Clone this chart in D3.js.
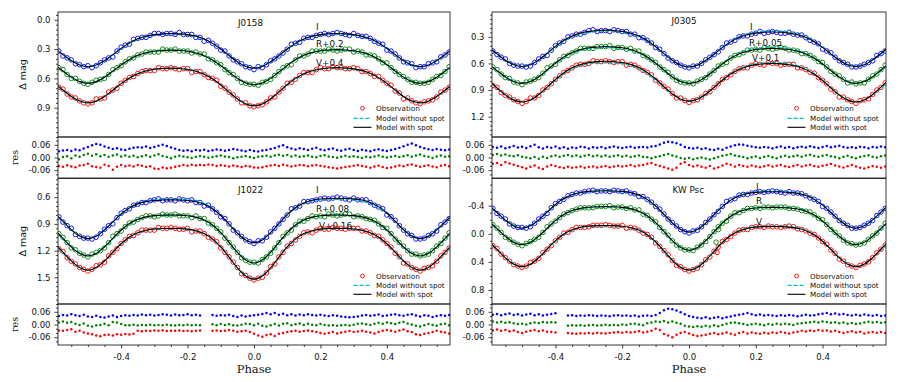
<!DOCTYPE html>
<html>
<head>
<meta charset="utf-8">
<script src="https://cdn.jsdelivr.net/npm/d3@7"></script>
<style>
body { margin: 0; background: #fff; }
svg text { font-family: "DejaVu Sans", sans-serif; fill: #111; }
</style>
</head>
<body>
<script>
const width = 899;
const height = 382;

// phase grids
const phaseModel = [-.6,-.575,-.55,-.525,-.5,-.475,-.45,-.425,-.4,-.375,-.35,-.325,-.3,-.275,-.25,-.225,-.2,-.175,-.15,-.125,-.1,-.075,-.05,-.025,0,
  .025,.05,.075,.1,.125,.15,.175,.2,.225,.25,.275,.3,.325,.35,.375,.4,.425,.45,.475,.5,.525,.55,.575,.6];
const phaseNoSpot = [-.6,-.55,-.5,-.45,-.4,-.35,-.3,-.25,-.2,-.15,-.1,-.05,0,.05,.1,.15,.2,.25,.3,.35,.4,.45,.5,.55,.6];
const phaseObs = [-.5875,-.575,-.5625,-.55,-.5375,-.525,-.5125,-.5,-.4875,-.475,
  -.4625,-.45,-.4375,-.425,-.4125,-.4,-.3875,-.375,-.3625,-.35,
  -.3375,-.325,-.3125,-.3,-.2875,-.275,-.2625,-.25,-.2375,-.225,
  -.2125,-.2,-.1875,-.175,-.1625,-.15,-.1375,-.125,-.1125,-.1,
  -.0875,-.075,-.0625,-.05,-.0375,-.025,-.0125,0,.0125,.025,
  .0375,.05,.0625,.075,.0875,.1,.1125,.125,.1375,.15,
  .1625,.175,.1875,.2,.2125,.225,.2375,.25,.2625,.275,
  .2875,.3,.3125,.325,.3375,.35,.3625,.375,.3875,.4,
  .4125,.425,.4375,.45,.4625,.475,.4875,.5,.5125,.525,
  .5375,.55,.5625,.575,.5875];

// ---------- J0158 ----------
const j0158ObsI = [.32,.37,.39,.41,.45,.46,.48,.47,.49,.47,.44,.41,.39,.38,.32,.28,.26,.25,.20,.19,
  .18,.18,.16,.14,.14,.15,.14,.14,.15,.13,.15,.15,.15,.18,.18,.22,.21,.24,.27,.31,
  .32,.37,.41,.43,.45,.48,.49,.51,.48,.49,.46,.42,.40,.37,.34,.30,.25,.24,.23,.19,
  .18,.18,.16,.15,.14,.15,.14,.13,.14,.15,.16,.14,.16,.17,.17,.19,.22,.24,.25,.31,
  .32,.35,.39,.43,.44,.45,.49,.48,.48,.45,.44,.43,.38,.36,.33];
const j0158ObsR = [.49,.51,.56,.60,.60,.63,.65,.66,.64,.62,.61,.60,.56,.51,.49,.47,.43,.40,.39,.36,
  .35,.33,.33,.33,.33,.30,.31,.31,.30,.32,.32,.32,.34,.33,.35,.35,.40,.41,.44,.46,
  .51,.54,.56,.60,.64,.65,.66,.66,.67,.64,.63,.61,.57,.53,.49,.47,.46,.41,.37,.37,
  .35,.32,.32,.32,.32,.30,.31,.32,.31,.30,.30,.33,.32,.33,.36,.36,.37,.40,.44,.44,
  .49,.53,.56,.58,.61,.64,.64,.65,.65,.64,.61,.58,.57,.53,.48];
const j0158ObsV = [.69,.71,.76,.79,.80,.83,.85,.86,.85,.81,.81,.80,.74,.72,.70,.65,.62,.59,.58,.55,
  .53,.52,.52,.52,.49,.50,.50,.49,.50,.51,.50,.50,.54,.53,.53,.56,.59,.60,.62,.68,
  .70,.74,.77,.81,.85,.85,.88,.89,.88,.87,.84,.80,.79,.74,.70,.65,.64,.61,.57,.54,
  .54,.54,.51,.49,.50,.50,.48,.49,.49,.50,.50,.49,.50,.53,.53,.55,.58,.58,.62,.65,
  .67,.73,.75,.81,.80,.83,.85,.86,.84,.83,.82,.79,.74,.72,.69];
const j0158ModelI = [.292,.356,.418,.463,.480,.463,.418,.356,.292,.236,.194,.168,.152,.144,.140,.144,.152,.169,.197,.241,.299,.366,.430,.478,.495,
  .478,.430,.366,.299,.241,.197,.169,.152,.144,.140,.144,.152,.168,.194,.236,.292,.356,.418,.463,.480,.463,.418,.356,.292];
const j0158ModelR = [.459,.524,.587,.633,.650,.633,.588,.526,.462,.406,.364,.338,.322,.314,.310,.314,.322,.339,.367,.411,.469,.536,.600,.648,.665,
  .647,.600,.534,.466,.407,.363,.334,.317,.309,.305,.309,.317,.333,.360,.403,.459,.524,.587,.633,.650,.633,.588,.526,.462];
const j0158ModelV = [.651,.719,.785,.832,.850,.833,.785,.721,.654,.596,.552,.524,.507,.499,.495,.499,.508,.526,.557,.604,.667,.740,.810,.861,.880,
  .861,.809,.738,.664,.600,.552,.522,.503,.494,.490,.494,.502,.519,.548,.592,.651,.719,.785,.832,.850,.833,.785,.721,.654];
const j0158NoSpotI = [.292,.418,.480,.418,.295,.200,.158,.147,.158,.200,.300,.430,.495,.430,.300,.200,.158,.147,.158,.200,.295,.418,.480,.418,.295];
const j0158NoSpotR = [.462,.588,.650,.588,.464,.366,.322,.309,.321,.366,.468,.600,.665,.600,.468,.366,.321,.309,.322,.364,.462,.588,.650,.588,.464];
const j0158NoSpotV = [.653,.786,.850,.786,.656,.552,.506,.493,.506,.554,.666,.810,.880,.810,.666,.554,.506,.493,.506,.552,.653,.786,.850,.786,.656];
const j0158ResI = [.030,.033,.036,.031,.038,.034,.042,.050,.058,.064,.060,.052,.046,.040,.044,.038,.035,.041,.046,.049,
  .047,.052,.045,.050,.056,.060,.054,.047,.041,.036,.032,.034,.030,.036,.033,.037,.031,.034,.038,.035,
  .032,.036,.040,.037,.033,.030,.035,.031,.028,.033,.036,.040,.045,.052,.058,.048,.042,.038,.044,.040,
  .036,.041,.046,.038,.034,.039,.043,.036,.032,.038,.041,.035,.031,.037,.033,.030,.035,.039,.034,.031,
  .036,.040,.046,.053,.060,.066,.058,.050,.044,.039,.035,.040,.037,.034,.038];
const j0158ResR = [-.008,.002,.006,-.003,.010,.004,.012,.018,.008,.015,.006,.012,.003,.009,.014,.005,.010,.004,.008,.001,
  .006,.011,.004,.009,.015,.007,.002,-.004,.003,.008,.005,.001,-.002,.003,.007,.004,-.001,.002,.006,.009,
  .005,.002,-.003,.001,.004,.007,.002,-.002,.003,.006,.008,.004,.010,.013,.008,.012,.005,.009,.003,.006,
  .010,.004,.001,.007,.011,.005,.002,-.001,.004,.008,.003,.006,.002,-.002,.004,.001,.005,.009,.004,.000,
  .003,.007,.002,.006,.011,.004,.009,.014,.007,.003,-.002,.005,.010,.003,.006];
const j0158ResV = [-.040,-.044,-.037,-.042,-.046,-.038,-.035,-.030,-.041,-.045,-.048,-.034,-.040,-.058,-.044,-.036,-.041,-.038,-.043,-.035,
  -.039,-.045,-.041,-.052,-.055,-.047,-.051,-.049,-.044,-.040,-.036,-.039,-.034,-.038,-.035,-.037,-.033,-.036,-.040,-.037,
  -.039,-.042,-.038,-.041,-.045,-.040,-.043,-.047,-.049,-.046,-.041,-.038,-.036,-.040,-.034,-.038,-.043,-.039,-.035,-.037,
  -.041,-.038,-.036,-.039,-.042,-.046,-.049,-.052,-.048,-.045,-.042,-.039,-.035,-.040,-.044,-.048,-.043,-.039,-.045,-.050,
  -.047,-.042,-.038,-.041,-.036,-.033,-.039,-.044,-.040,-.037,-.042,-.046,-.039,-.035,-.041];

// ---------- J0305 ----------
const j0305ObsI = [.46,.50,.53,.55,.60,.62,.63,.63,.64,.63,.59,.55,.52,.51,.45,.40,.37,.35,.30,.29,
  .27,.27,.25,.23,.22,.24,.23,.23,.24,.22,.23,.24,.24,.27,.27,.31,.31,.34,.37,.42,
  .44,.49,.54,.57,.59,.62,.64,.65,.63,.63,.60,.56,.53,.50,.47,.42,.37,.36,.34,.30,
  .29,.29,.27,.26,.24,.26,.25,.24,.25,.26,.26,.25,.27,.28,.28,.31,.34,.36,.38,.44,
  .46,.48,.53,.57,.59,.61,.64,.64,.63,.61,.59,.57,.51,.49,.46];
const j0305ObsR = [.64,.67,.72,.76,.77,.81,.82,.84,.81,.80,.78,.76,.71,.65,.63,.61,.56,.52,.51,.48,
  .46,.43,.43,.43,.43,.41,.41,.41,.40,.43,.42,.42,.44,.43,.46,.46,.51,.53,.56,.59,
  .64,.67,.70,.75,.79,.81,.82,.82,.83,.80,.78,.76,.72,.68,.63,.61,.59,.54,.51,.50,
  .48,.45,.45,.44,.45,.42,.43,.44,.43,.42,.43,.45,.45,.46,.49,.49,.51,.54,.58,.59,
  .64,.69,.72,.74,.78,.82,.81,.83,.82,.82,.78,.74,.72,.67,.62];
const j0305ObsV = [.85,.87,.93,.96,.98,1.01,1.03,1.05,1.03,.99,.99,.96,.90,.87,.83,.78,.74,.70,.68,.65,
  .62,.61,.61,.60,.57,.58,.58,.57,.58,.59,.58,.58,.62,.61,.62,.65,.68,.70,.73,.79,
  .82,.86,.89,.94,.99,.99,1.02,1.04,1.02,1.01,.98,.94,.92,.87,.83,.78,.76,.73,.69,.66,
  .65,.65,.62,.60,.61,.62,.59,.60,.60,.62,.61,.61,.61,.65,.65,.67,.70,.71,.76,.79,
  .83,.89,.92,.98,.98,1.01,1.03,1.05,1.02,1.01,1.00,.95,.90,.87,.82];
const j0305ModelI = [.419,.493,.564,.616,.635,.615,.560,.486,.408,.341,.291,.258,.239,.230,.225,.230,.239,.259,.291,.342,.411,.489,.565,.620,.640,
  .621,.568,.496,.422,.357,.308,.277,.258,.249,.245,.249,.258,.277,.307,.355,.419,.493,.564,.616,.635,.615,.560,.486,.408];
const j0305ModelR = [.607,.681,.753,.806,.825,.805,.750,.674,.596,.527,.476,.444,.424,.415,.410,.415,.424,.444,.476,.527,.596,.674,.750,.805,.825,
  .806,.753,.681,.607,.542,.493,.462,.443,.434,.430,.434,.443,.462,.493,.542,.607,.681,.753,.806,.825,.805,.750,.674,.596];
const j0305ModelV = [.794,.877,.956,1.014,1.035,1.013,.951,.868,.781,.705,.649,.612,.591,.580,.575,.580,.590,.611,.647,.702,.776,.861,.943,1.003,1.025,
  1.004,.948,.870,.790,.720,.668,.634,.614,.605,.600,.605,.615,.635,.670,.723,.794,.877,.956,1.014,1.035,1.013,.951,.868,.781];
const j0305NoSpotI = [.414,.562,.635,.562,.414,.300,.249,.235,.249,.300,.416,.566,.640,.566,.416,.300,.249,.235,.249,.300,.414,.562,.635,.562,.414];
const j0305NoSpotR = [.602,.752,.825,.752,.602,.485,.433,.420,.433,.485,.602,.752,.825,.752,.602,.485,.433,.420,.433,.485,.602,.752,.825,.752,.602];
const j0305NoSpotV = [.788,.953,1.035,.953,.788,.660,.604,.590,.604,.660,.784,.946,1.025,.946,.784,.660,.604,.590,.604,.660,.788,.953,1.035,.953,.788];
const j0305ResI = [.050,.046,.052,.044,.049,.055,.047,.051,.045,.053,.060,.048,.043,.050,.046,.052,.044,.049,.041,.047,
  .045,.051,.048,.043,.049,.046,.050,.044,.048,.052,.047,.045,.049,.051,.046,.048,.050,.047,.052,.055,
  .062,.070,.074,.072,.068,.060,.050,.045,.042,.046,.040,.044,.038,.035,.041,.037,.046,.052,.058,.062,
  .060,.056,.052,.049,.046,.050,.047,.044,.049,.052,.046,.050,.044,.048,.051,.047,.053,.049,.045,.050,
  .054,.048,.052,.056,.050,.046,.049,.045,.051,.048,.044,.050,.047,.052,.049];
const j0305ResR = [.012,.016,.010,.014,.008,.006,.011,.004,.000,-.004,.002,-.006,.004,-.002,.006,.010,.003,.008,.012,.006,
  .009,.004,.008,.012,.006,.010,.005,.009,.003,.007,.011,.005,.008,.002,.006,.010,.004,.001,-.003,.002,
  .006,.012,.016,.010,.005,-.002,-.006,-.002,-.008,-.004,.000,-.005,-.009,-.003,.002,.008,.012,.016,.010,.006,
  .002,-.004,.001,.005,-.002,.003,.007,.001,-.003,.004,.008,.002,.006,.010,.004,.009,.013,.007,.003,.008,
  .012,.006,.002,-.003,.004,.008,.001,-.004,.003,.007,.011,.004,.000,.006,.010];
const j0305ResV = [-.030,-.026,-.035,-.022,-.028,-.034,-.040,-.046,-.052,-.044,-.038,-.048,-.054,-.042,-.036,-.040,-.046,-.050,-.044,-.048,
  -.046,-.042,-.048,-.045,-.043,-.047,-.044,-.040,-.046,-.042,-.039,-.043,-.040,-.036,-.041,-.038,-.035,-.030,-.026,-.034,
  -.040,-.046,-.052,-.058,-.048,-.030,-.022,-.035,-.042,-.038,-.044,-.048,-.040,-.052,-.046,-.038,-.030,-.034,-.042,-.036,
  -.040,-.044,-.038,-.042,-.046,-.041,-.037,-.043,-.039,-.035,-.041,-.045,-.040,-.036,-.042,-.038,-.034,-.040,-.044,-.039,
  -.035,-.031,-.038,-.043,-.047,-.041,-.036,-.042,-.048,-.052,-.046,-.040,-.044,-.049,-.043];

// ---------- J1022 ----------
const j1022ObsI = [.82,.88,.92,.95,1.02,1.04,1.06,1.06,1.07,1.05,1.01,.96,.92,.90,.83,.78,.75,.73,.69,.68,
  .66,.66,.64,.63,.62,.64,.63,.63,.64,.62,.63,.64,.63,.66,.66,.70,.69,.73,.77,.82,
  .84,.90,.97,1.00,1.04,1.08,1.10,1.12,1.09,1.09,1.05,.99,.95,.90,.85,.80,.73,.72,.70,.65,
  .65,.64,.63,.62,.61,.62,.61,.60,.61,.62,.63,.61,.63,.63,.63,.66,.69,.71,.73,.80,
  .82,.86,.92,.97,1.01,1.03,1.07,1.07,1.06,1.03,1.01,.98,.91,.88,.84];
const j1022ObsR = [1.01,1.05,1.11,1.17,1.19,1.23,1.25,1.27,1.24,1.22,1.20,1.17,1.11,1.04,1.01,.98,.93,.89,.88,.85,
  .83,.81,.81,.82,.81,.79,.80,.80,.79,.81,.81,.81,.83,.81,.84,.84,.89,.91,.95,.99,
  1.06,1.11,1.16,1.22,1.28,1.31,1.33,1.33,1.34,1.30,1.27,1.23,1.17,1.11,1.04,1.00,.97,.91,.87,.87,
  .84,.81,.82,.81,.82,.79,.80,.81,.80,.79,.79,.82,.81,.82,.84,.85,.86,.90,.94,.95,
  1.01,1.07,1.11,1.15,1.20,1.24,1.24,1.26,1.25,1.24,1.20,1.15,1.12,1.06,1.00];
const j1022ObsV = [1.18,1.21,1.28,1.32,1.35,1.39,1.41,1.43,1.41,1.37,1.36,1.33,1.26,1.22,1.18,1.12,1.08,1.04,1.03,1.00,
  .97,.97,.97,.97,.94,.95,.95,.94,.95,.96,.96,.95,.99,.98,.98,1.01,1.05,1.07,1.10,1.17,
  1.22,1.27,1.33,1.39,1.46,1.48,1.51,1.53,1.51,1.50,1.45,1.38,1.35,1.27,1.22,1.15,1.12,1.08,1.04,1.00,
  .99,1.00,.97,.95,.96,.96,.94,.95,.95,.96,.95,.95,.95,.98,.98,1.00,1.03,1.04,1.08,1.12,
  1.16,1.23,1.27,1.34,1.35,1.39,1.41,1.43,1.40,1.39,1.37,1.32,1.26,1.22,1.17];
const j1022ModelI = [.778,.870,.964,1.037,1.065,1.039,.968,.878,.790,.721,.675,.650,.637,.632,.630,.632,.638,.652,.680,.730,.806,.903,1.003,1.081,1.110,
  1.080,.999,.895,.795,.716,.664,.634,.620,.614,.612,.614,.619,.632,.659,.706,.778,.870,.964,1.037,1.065,1.039,.968,.878,.790];
const j1022ModelR = [.969,1.062,1.158,1.232,1.260,1.232,1.158,1.062,.969,.896,.848,.821,.807,.802,.800,.802,.809,.824,.856,.912,.998,1.107,1.220,1.307,1.340,
  1.307,1.220,1.107,.998,.912,.856,.824,.809,.802,.800,.802,.807,.821,.848,.896,.969,1.062,1.158,1.232,1.260,1.232,1.158,1.062,.969];
const j1022ModelV = [1.123,1.217,1.316,1.391,1.420,1.391,1.316,1.217,1.123,1.048,.999,.971,.958,.952,.950,.952,.959,.976,1.009,1.069,1.159,1.274,1.394,1.485,1.520,
  1.485,1.394,1.274,1.159,1.069,1.009,.976,.959,.952,.950,.952,.958,.971,.999,1.048,1.123,1.217,1.316,1.391,1.420,1.391,1.316,1.217,1.123];
const j1022NoSpotI = [.784,.966,1.065,.966,.784,.670,.628,.621,.628,.670,.800,1.001,1.110,1.001,.800,.670,.628,.621,.628,.670,.784,.966,1.065,.966,.784];
const j1022NoSpotR = [.972,1.160,1.260,1.160,.972,.852,.810,.803,.811,.858,1.000,1.220,1.340,1.220,1.000,.858,.811,.803,.810,.852,.972,1.160,1.260,1.160,.972];
const j1022NoSpotV = [1.126,1.318,1.420,1.318,1.126,1.003,.961,.953,.962,1.012,1.160,1.394,1.520,1.394,1.160,1.012,.962,.953,.961,1.003,1.126,1.318,1.420,1.318,1.126];
const j1022ResI = [.040,.045,.042,.048,.044,.040,.046,.038,.035,.041,.036,.033,.038,.042,.036,.040,.044,.041,.045,.043,
  .047,.044,.046,.042,.045,.049,.046,.043,.047,.044,.045,.048,.044,.046,.043,null,null,.045,.041,.044,
  .042,.046,.040,.036,.043,.038,.041,.044,.046,.050,.054,.048,.055,.046,.051,.044,.048,.043,.047,.044,
  .049,.045,.042,.046,.043,.040,.044,.041,.038,.035,.034,.036,.038,.042,.045,.041,.044,.047,.040,.043,
  .046,.049,.044,.041,.046,.048,.043,.038,.044,.041,.035,.040,.044,.041,.045];
const j1022ResR = [.010,.014,.008,.012,.003,-.002,.005,-.006,-.010,-.004,-.002,.004,-.003,.012,.010,.002,-.004,-.003,-.001,-.005,
  -.002,-.004,-.001,-.003,-.002,-.004,-.001,-.003,-.005,-.002,-.003,-.001,-.004,-.002,-.003,null,null,.001,-.003,.002,
  -.002,.001,-.003,-.005,-.001,.004,.002,-.004,.003,-.006,-.010,-.004,.002,-.005,.004,.006,-.003,.001,.005,-.002,
  .003,-.001,-.004,.002,-.002,-.005,-.003,-.006,-.004,-.002,-.005,-.001,.003,.005,.001,-.002,.004,.008,.004,.010,
  .006,.002,.008,.012,.005,.000,-.006,-.010,-.004,.002,-.002,-.006,.001,.004,-.003];
const j1022ResV = [-.028,-.030,-.026,-.022,-.034,-.030,-.038,-.042,-.046,-.052,-.056,-.050,-.048,-.052,-.046,-.048,-.045,-.047,-.044,-.030,
  -.032,-.029,-.031,-.028,-.030,-.027,-.031,-.029,-.030,-.028,-.031,-.029,-.032,-.030,-.028,null,null,-.030,-.028,-.031,
  -.029,-.026,-.030,-.034,-.032,-.030,-.036,-.044,-.052,-.058,-.050,-.046,-.054,-.044,-.040,-.036,-.032,-.030,-.034,-.031,
  -.028,-.032,-.036,-.040,-.044,-.040,-.036,-.042,-.038,-.034,-.031,-.035,-.033,-.029,-.034,-.038,-.042,-.036,-.030,-.026,
  -.030,-.034,-.028,-.024,-.032,-.036,-.046,-.050,-.044,-.040,-.036,-.030,-.034,-.038,-.042];

// ---------- KW Psc ----------
const kwObsI = [-.36,-.29,-.25,-.21,-.14,-.11,-.09,-.09,-.08,-.10,-.15,-.21,-.25,-.29,-.37,-.43,-.46,-.49,-.54,-.56,
  -.58,-.58,-.60,-.61,-.62,-.60,-.61,-.61,-.60,-.62,-.61,-.60,-.61,-.58,-.57,-.53,-.53,-.49,-.45,-.39,
  -.35,-.28,-.21,-.16,-.11,-.06,-.03,-.01,-.04,-.05,-.10,-.16,-.21,-.27,-.32,-.39,-.46,-.48,-.50,-.55,
  -.56,-.56,-.58,-.59,-.60,-.59,-.60,-.61,-.60,-.59,-.58,-.60,-.58,-.58,-.57,-.54,-.51,-.49,-.46,-.39,
  -.36,-.31,-.25,-.19,-.15,-.12,-.08,-.08,-.09,-.12,-.15,-.19,-.26,-.31,-.36];
const kwObsR = [-.13,-.08,-.02,.05,.08,.12,.15,.17,.14,.11,.08,.05,-.02,-.10,-.14,-.18,-.23,-.28,-.30,-.33,
  -.35,-.37,-.37,-.37,-.37,-.39,-.39,-.39,-.40,-.37,-.38,-.38,-.36,-.37,-.34,-.34,-.28,-.26,-.21,-.17,
  -.09,-.03,.02,.10,.16,.20,.23,.23,.24,.19,.16,.11,.04,-.03,-.10,-.15,-.18,-.25,-.30,-.30,
  -.33,-.36,-.36,-.37,-.36,-.38,-.38,-.37,-.38,-.38,-.38,-.36,-.36,-.35,-.33,-.32,-.31,-.27,-.22,-.20,
  -.13,-.06,-.02,.03,.09,.13,.14,.16,.15,.13,.08,.03,-.01,-.08,-.15];
const kwObsV = [.17,.21,.29,.34,.39,.44,.46,.48,.46,.41,.39,.35,.27,.22,.17,.10,.05,-.01,-.02,-.06,
  -.09,-.09,-.09,-.10,-.12,-.12,-.12,-.13,-.12,-.11,-.11,-.12,-.08,-.09,-.08,-.05,-.01,.01,.05,.13,
  .18,.24,.30,.38,.45,.47,.51,.53,.51,.49,.44,.37,.33,.25,.19,.11,.08,.04,-.01,-.05,
  -.06,-.06,-.09,-.10,-.10,-.09,-.11,-.10,-.10,-.09,-.10,-.11,-.10,-.07,-.06,-.04,-.01,.01,.06,.11,
  .15,.23,.28,.36,.39,.44,.46,.48,.45,.43,.40,.34,.27,.22,.16];
const kwOutPhase = [0.081, 0.088, 0.084];
const kwOutMag = [0.12, -0.06, 0.265];
const kwOutBand = ["R", "R", "V"];
const kwModelI = [-.408,-.303,-.195,-.112,-.080,-.113,-.198,-.309,-.417,-.501,-.557,-.588,-.604,-.610,-.612,-.610,-.603,-.586,-.551,-.490,-.396,-.277,-.155,-.060,-.024,
  -.059,-.151,-.271,-.387,-.479,-.538,-.572,-.589,-.596,-.598,-.596,-.590,-.575,-.544,-.490,-.408,-.303,-.195,-.112,-.080,-.113,-.198,-.309,-.417];
const kwModelR = [-.181,-.074,.037,.123,.155,.122,.035,-.078,-.188,-.274,-.330,-.362,-.377,-.384,-.386,-.384,-.376,-.358,-.321,-.257,-.158,-.033,.097,.197,.235,
  .198,.099,-.028,-.152,-.249,-.313,-.349,-.366,-.374,-.376,-.374,-.368,-.352,-.321,-.266,-.181,-.074,.037,.123,.155,.122,.035,-.078,-.188];
const kwModelV = [.107,.223,.343,.435,.470,.434,.340,.217,.098,.004,-.057,-.092,-.109,-.116,-.118,-.116,-.108,-.089,-.052,.014,.115,.244,.377,.479,.518,
  .480,.380,.250,.124,.025,-.039,-.076,-.094,-.102,-.104,-.102,-.095,-.078,-.044,.015,.107,.223,.343,.435,.470,.434,.340,.217,.098];
const kwNoSpotI = [-.412,-.197,-.080,-.197,-.412,-.551,-.597,-.605,-.597,-.548,-.392,-.153,-.024,-.153,-.392,-.548,-.597,-.605,-.597,-.551,-.412,-.197,-.080,-.197,-.412];
const kwNoSpotR = [-.184,.036,.155,.036,-.184,-.325,-.372,-.381,-.371,-.317,-.155,.098,.235,.098,-.155,-.317,-.371,-.381,-.372,-.325,-.184,.036,.155,.036,-.184];
const kwNoSpotV = [.103,.341,.470,.341,.103,-.050,-.102,-.111,-.101,-.045,.119,.378,.518,.378,.119,-.045,-.101,-.111,-.102,-.050,.103,.341,.470,.341,.103];
const kwResI = [.046,.050,.044,.048,.052,.045,.049,.043,.047,.051,.044,.048,.042,.046,.050,.053,null,null,.042,.044,
  .040,.043,.041,.044,.042,.040,.043,.041,.039,.042,.044,.041,.043,.040,.042,.038,.041,.043,.040,.045,
  .055,.068,.075,.072,.066,.058,.048,.040,.036,.032,.030,.034,.028,.032,.036,.030,.034,.038,.042,.046,
  .050,.054,.048,.044,.047,.042,.045,.043,.040,.044,.041,.045,.042,.039,.043,.046,.042,.044,.048,.051,
  .054,.049,.052,.047,.050,.045,.042,.046,.043,.047,.044,.041,.045,.040,.043];
const kwResR = [.014,.010,.013,.008,.011,.006,.002,.004,.000,.006,.010,.007,.012,.009,.011,.010,null,null,-.006,-.004,
  -.005,-.003,-.006,-.004,-.002,-.005,-.003,-.001,-.004,-.002,-.003,.000,-.002,.002,.004,.000,-.004,.006,.010,.014,
  .012,.016,.010,.014,.008,.004,-.006,-.010,-.012,-.008,-.011,-.006,-.009,-.004,-.008,-.002,.004,.008,.010,.006,
  .002,-.002,.001,.004,.000,-.003,.002,-.001,.003,.000,.004,.001,-.002,.003,.006,.008,.011,.013,.009,.014,
  .012,.008,.011,.006,.009,.004,.007,.002,.005,.010,.013,.009,.012,.008,.011];
const kwResV = [-.028,-.024,-.030,-.026,-.032,-.028,-.036,-.040,-.034,-.030,-.026,-.032,-.028,-.034,-.036,-.038,null,null,-.040,-.042,
  -.044,-.041,-.043,-.040,-.042,-.039,-.041,-.043,-.040,-.038,-.036,-.039,-.035,-.038,-.036,-.032,-.038,-.034,-.030,-.020,
  -.026,-.045,-.052,-.060,-.048,-.040,-.036,-.042,-.050,-.055,-.052,-.048,-.044,-.040,-.046,-.042,-.038,-.044,-.048,-.040,
  -.036,-.042,-.038,-.041,-.044,-.039,-.042,-.038,-.040,-.036,-.039,-.042,-.038,-.034,-.030,-.033,-.028,-.031,-.026,-.030,
  -.028,-.033,-.029,-.035,-.040,-.036,-.032,-.038,-.034,-.042,-.038,-.035,-.039,-.036,-.040];

// axis ticks
const xMajor = [-0.4, -0.2, 0, 0.2, 0.4];
const resMajor = [-0.06, 0, 0.06];

// ---------- layout ----------
const xDomain = [-0.59, 0.59];
const resDomain = [-0.097, 0.097];
const cols = [[58, 450], [492, 886]];
const rows = [{main: [12, 137], res: [137, 178]}, {main: [178.5, 304], res: [304, 345]}];
const bandColor = {I: "#0000ff", R: "#008000", V: "#ff0000"};
const cyan = "#00bfbf";

const panels = [
  {name: "J0158", col: 0, row: 0, yDomain: [-0.08, 1.2], yMajor: [0, 0.3, 0.6, 0.9], yMinor: 0.05,
   obs: {I: j0158ObsI, R: j0158ObsR, V: j0158ObsV}, model: {I: j0158ModelI, R: j0158ModelR, V: j0158ModelV},
   noSpot: {I: j0158NoSpotI, R: j0158NoSpotR, V: j0158NoSpotV}, res: {I: j0158ResI, R: j0158ResR, V: j0158ResV},
   title: [238, 26], labels: [["I", 316, 30], ["R+0.2", 316, 46.6], ["V+0.4", 316, 66]], legend: [362.5, [108.3, 118.3, 127.3]]},
  {name: "J0305", col: 1, row: 0, yDomain: [0.02, 1.43], yMajor: [0.3, 0.6, 0.9, 1.2], yMinor: 0.05,
   obs: {I: j0305ObsI, R: j0305ObsR, V: j0305ObsV}, model: {I: j0305ModelI, R: j0305ModelR, V: j0305ModelV},
   noSpot: {I: j0305NoSpotI, R: j0305NoSpotR, V: j0305NoSpotV}, res: {I: j0305ResI, R: j0305ResR, V: j0305ResV},
   title: [671.5, 24], labels: [["I", 750, 30], ["R+0.05", 749, 45.6], ["V+0.1", 752, 60.6]], legend: [796.5, [108.3, 118.3, 127.3]]},
  {name: "J1022", col: 0, row: 1, yDomain: [0.39, 1.8], yMajor: [0.6, 0.9, 1.2, 1.5], yMinor: 0.05,
   obs: {I: j1022ObsI, R: j1022ObsR, V: j1022ObsV}, model: {I: j1022ModelI, R: j1022ModelR, V: j1022ModelV},
   noSpot: {I: j1022NoSpotI, R: j1022NoSpotR, V: j1022NoSpotV}, res: {I: j1022ResI, R: j1022ResR, V: j1022ResV},
   title: [238, 192.6], labels: [["I", 316, 192.6], ["R+0.08", 316, 211.6], ["V+0.16", 319, 229]], legend: [362.5, [276, 285.3, 294.3]]},
  {name: "KW Psc", col: 1, row: 1, yDomain: [-0.787, 1.0], yMajor: [-0.4, 0, 0.4, 0.8], yMinor: 0.1,
   obs: {I: kwObsI, R: kwObsR, V: kwObsV}, model: {I: kwModelI, R: kwModelR, V: kwModelV},
   noSpot: {I: kwNoSpotI, R: kwNoSpotR, V: kwNoSpotV}, res: {I: kwResI, R: kwResR, V: kwResV},
   title: [672.5, 193.3], labels: [["I", 756, 190], ["R", 756, 204], ["V", 756, 225]], legend: [796.5, [276, 285.3, 294.3]]}
];

const svg = d3.select("body")
  .append("svg")
    .attr("width", width)
    .attr("height", height);

svg.append("rect").attr("width", width).attr("height", height).attr("fill", "#fff");

function minorTicks(domain, step, majors) {
  const lo = Math.min(domain[0], domain[1]), hi = Math.max(domain[0], domain[1]);
  const out = [];
  for (let i = Math.ceil(lo / step - 1e-9); i * step <= hi + 1e-9; i++) {
    const v = +(i * step).toFixed(4);
    if (!majors.some(m => Math.abs(m - v) < 1e-6)) out.push(v);
  }
  return out;
}

function styleAxis(g, fontSize) {
  g.select(".domain").remove();
  g.selectAll(".tick line").attr("stroke", "#111").attr("stroke-width", 0.8);
  g.selectAll(".tick text").attr("fill", "#111").attr("font-size", fontSize)
    .attr("font-family", "DejaVu Sans, sans-serif");
}

function drawYAxis(g, x0, y, majors, step, fmt) {
  const major = g.append("g").attr("transform", "translate(" + x0 + ",0)")
    .call(d3.axisLeft(y).tickValues(majors).tickSize(3.5).tickPadding(4).tickFormat(fmt));
  styleAxis(major, 8.5);
  const minor = g.append("g").attr("transform", "translate(" + x0 + ",0)")
    .call(d3.axisLeft(y).tickValues(minorTicks(y.domain(), step, majors)).tickSize(2).tickFormat(""));
  styleAxis(minor, 8.5);
}

panels.forEach((p, pi) => {
  const [x0, x1] = cols[p.col];
  const r = rows[p.row];
  const x = d3.scaleLinear().domain(xDomain).range([x0, x1]);
  const y = d3.scaleLinear().domain(p.yDomain).range(r.main);
  const yr = d3.scaleLinear().domain(resDomain).range([r.res[1], r.res[0]]);

  const g = svg.append("g");
  const clipId = "clip" + pi;
  g.append("clipPath").attr("id", clipId)
    .append("rect").attr("x", x0).attr("y", r.main[0]).attr("width", x1 - x0).attr("height", r.main[1] - r.main[0]);
  const clipR = "clipr" + pi;
  g.append("clipPath").attr("id", clipR)
    .append("rect").attr("x", x0).attr("y", r.res[0]).attr("width", x1 - x0).attr("height", r.res[1] - r.res[0]);

  const plot = g.append("g").attr("clip-path", "url(#" + clipId + ")");
  const bands = ["I", "R", "V"];

  // observations
  bands.forEach(b => {
    plot.append("g").selectAll("circle")
      .data(phaseObs.map((ph, i) => [ph, p.obs[b][i]]))
      .enter().append("circle")
        .attr("cx", d => x(d[0]))
        .attr("cy", d => y(d[1]))
        .attr("r", 2.3)
        .attr("fill", "none")
        .attr("stroke", bandColor[b])
        .attr("stroke-width", 0.9);
  });
  if (p.name === "KW Psc") {
    plot.append("g").selectAll("circle")
      .data(kwOutPhase.map((ph, i) => [ph, kwOutMag[i], kwOutBand[i]]))
      .enter().append("circle")
        .attr("cx", d => x(d[0]))
        .attr("cy", d => y(d[1]))
        .attr("r", 2.3)
        .attr("fill", "none")
        .attr("stroke", d => bandColor[d[2]])
        .attr("stroke-width", 0.9);
  }

  const line = d3.line().x(d => x(d[0])).y(d => y(d[1])).curve(d3.curveCatmullRom);
  // model without spot
  bands.forEach(b => {
    plot.append("path")
      .datum(phaseNoSpot.map((ph, i) => [ph, p.noSpot[b][i]]))
      .attr("d", line)
      .attr("fill", "none")
      .attr("stroke", cyan)
      .attr("stroke-width", 1.3)
      .attr("stroke-dasharray", "4,2");
  });
  // model with spot
  bands.forEach(b => {
    plot.append("path")
      .datum(phaseModel.map((ph, i) => [ph, p.model[b][i]]))
      .attr("d", line)
      .attr("fill", "none")
      .attr("stroke", "#000")
      .attr("stroke-width", 1.1);
  });

  // residuals
  const rplot = g.append("g").attr("clip-path", "url(#" + clipR + ")");
  bands.forEach(b => {
    rplot.append("g").selectAll("circle")
      .data(phaseObs.map((ph, i) => [ph, p.res[b][i]]).filter(d => d[1] != null))
      .enter().append("circle")
        .attr("cx", d => x(d[0]))
        .attr("cy", d => yr(d[1]))
        .attr("r", 1.25)
        .attr("fill", bandColor[b]);
  });

  // frames
  g.append("rect").attr("x", x0).attr("y", r.main[0]).attr("width", x1 - x0).attr("height", r.main[1] - r.main[0])
    .attr("fill", "none").attr("stroke", "#222").attr("stroke-width", 0.9);
  g.append("rect").attr("x", x0).attr("y", r.res[0]).attr("width", x1 - x0).attr("height", r.res[1] - r.res[0])
    .attr("fill", "none").attr("stroke", "#222").attr("stroke-width", 0.9);

  // axes
  drawYAxis(g, x0, y, p.yMajor, p.yMinor, d => d.toFixed(1));
  drawYAxis(g, x0, yr, resMajor, 0.02, d => d.toFixed(2));

  if (p.row === 1) {
    const xb = g.append("g").attr("transform", "translate(0," + r.res[1] + ")")
      .call(d3.axisBottom(x).tickValues(xMajor).tickSize(3.5).tickPadding(5).tickFormat(d => d.toFixed(1)));
    styleAxis(xb, 8.5);
    const xm = g.append("g").attr("transform", "translate(0," + r.res[1] + ")")
      .call(d3.axisBottom(x).tickValues(minorTicks(xDomain, 0.05, xMajor)).tickSize(2).tickFormat(""));
    styleAxis(xm, 8.5);
    g.append("text")
      .attr("x", (x0 + x1) / 2).attr("y", 373)
      .attr("text-anchor", "middle")
      .style("font-family", "DejaVu Serif, serif")
      .style("font-size", "11.5px")
      .text("Phase");
  }

  if (p.col === 0) {
    g.append("text")
      .attr("transform", "translate(26," + ((r.main[0] + r.main[1]) / 2) + ") rotate(-90)")
      .attr("text-anchor", "middle")
      .style("font-size", "9.5px")
      .text("\u0394 mag");
    g.append("text")
      .attr("transform", "translate(18," + ((r.res[0] + r.res[1]) / 2) + ") rotate(-90)")
      .attr("text-anchor", "middle")
      .style("font-family", "DejaVu Serif, serif")
      .style("font-size", "9.5px")
      .text("res");
  }

  // star name and band labels
  g.append("text").attr("x", p.title[0]).attr("y", p.title[1]).style("font-size", "8.8px").text(p.name);
  p.labels.forEach(l => {
    g.append("text").attr("x", l[1]).attr("y", l[2]).style("font-size", "8.8px").text(l[0]);
  });

  // legend
  const lx = p.legend[0], ly = p.legend[1];
  g.append("circle").attr("cx", lx).attr("cy", ly[0]).attr("r", 1.9)
    .attr("fill", "none").attr("stroke", bandColor.V).attr("stroke-width", 0.9);
  g.append("line").attr("x1", lx - 9).attr("x2", lx + 9).attr("y1", ly[1]).attr("y2", ly[1])
    .attr("stroke", cyan).attr("stroke-width", 1.3).attr("stroke-dasharray", "4,2");
  g.append("line").attr("x1", lx - 9).attr("x2", lx + 9).attr("y1", ly[2]).attr("y2", ly[2])
    .attr("stroke", "#000").attr("stroke-width", 1.1);
  ["Observation", "Model without spot", "Model with spot"].forEach((t, i) => {
    g.append("text").attr("x", lx + 13.5).attr("y", ly[i] + 2.6).style("font-size", "7.2px").text(t);
  });
});
</script>
</body>
</html>
